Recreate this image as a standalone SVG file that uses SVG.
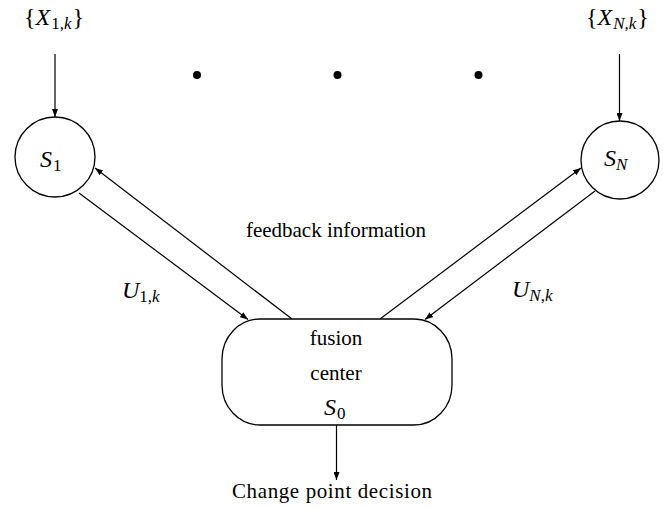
<svg xmlns="http://www.w3.org/2000/svg" width="663" height="508" viewBox="0 0 663 508">
<defs>
<marker id="ah" markerUnits="userSpaceOnUse" markerWidth="9" markerHeight="6" refX="8" refY="3" orient="auto">
<path d="M0,0 L8,3 L0,6 z" fill="#000"/>
</marker>
<style>
text{font-family:"Liberation Serif","Times New Roman",serif;font-size:21px;fill:#000}
.m{font-size:24px}
.i{font-style:italic}
.sub{font-size:17px}
.ln{stroke:#000;stroke-width:1.2;fill:none}
.nd{stroke:#000;stroke-width:1.3;fill:#fff}
</style>
</defs>
<rect width="663" height="508" fill="#fff"/>
<g id="input1"><text class="m" x="24" y="25">{<tspan class="i">X</tspan><tspan class="sub" dx="1" dy="4">1,<tspan class="i">k</tspan></tspan><tspan dx="1" dy="-4">}</tspan></text></g>
<g id="inputN"><text class="m" x="586" y="25">{<tspan class="i">X</tspan><tspan class="sub" dx="1" dy="4"><tspan class="i">N</tspan>,<tspan class="i">k</tspan></tspan><tspan dx="1" dy="-4">}</tspan></text></g>
<g id="dots">
<circle cx="197" cy="75" r="4" fill="#000"/>
<circle cx="337.5" cy="75" r="4" fill="#000"/>
<circle cx="478.5" cy="75" r="4" fill="#000"/>
</g>
<g id="connectors">
<line class="ln" x1="55" y1="54" x2="55" y2="117" marker-end="url(#ah)"/>
<line class="ln" x1="619.5" y1="54" x2="619.5" y2="121" marker-end="url(#ah)"/>
<line class="ln" x1="79" y1="193" x2="248" y2="319.5" marker-end="url(#ah)"/>
<line class="ln" x1="292" y1="319" x2="95" y2="168" marker-end="url(#ah)"/>
<line class="ln" x1="380" y1="319" x2="581" y2="168" marker-end="url(#ah)"/>
<line class="ln" x1="595" y1="191" x2="425" y2="319.5" marker-end="url(#ah)"/>
<line class="ln" x1="336.5" y1="425" x2="336.5" y2="480" marker-end="url(#ah)"/>
</g>
<g id="S1">
<circle class="nd" cx="55" cy="157" r="40"/>
<text class="m" x="40" y="167"><tspan class="i">S</tspan><tspan class="sub" dx="1" dy="4">1</tspan></text>
</g>
<g id="SN">
<circle class="nd" cx="620" cy="160" r="39"/>
<text class="m" x="604" y="166"><tspan class="i">S</tspan><tspan class="sub i" dy="4">N</tspan></text>
</g>
<g id="fusion">
<rect class="nd" x="222" y="319" width="230" height="106" rx="38" ry="40"/>
<text x="336" y="345" text-anchor="middle">fusion</text>
<text x="336" y="380" text-anchor="middle">center</text>
<text class="m" x="324" y="415"><tspan class="i">S</tspan><tspan class="sub" dx="1" dy="4">0</tspan></text>
</g>
<g id="labels">
<text x="336" y="237" text-anchor="middle">feedback information</text>
<text class="m" x="122" y="298"><tspan class="i">U</tspan><tspan class="sub" dy="4">1,<tspan class="i">k</tspan></tspan></text>
<text class="m" x="512" y="297"><tspan class="i">U</tspan><tspan class="sub" dy="4"><tspan class="i">N</tspan>,<tspan class="i">k</tspan></tspan></text>
<text x="232" y="498" textLength="200" lengthAdjust="spacing">Change point decision</text>
</g>
</svg>
